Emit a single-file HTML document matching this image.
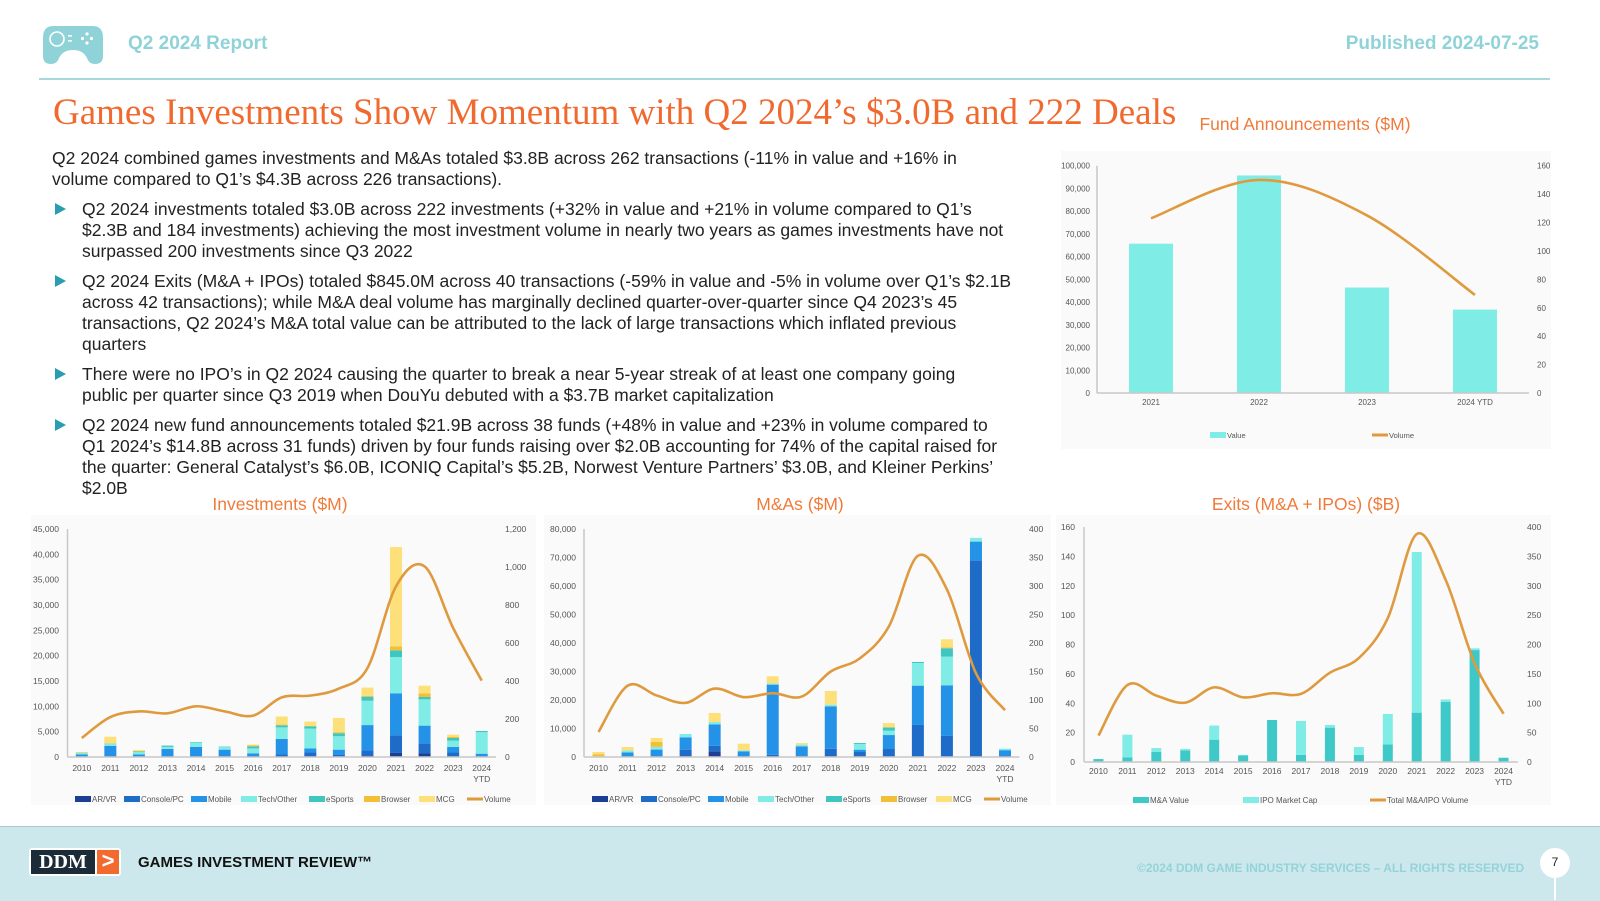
<!DOCTYPE html>
<html><head><meta charset="utf-8"><style>
body{margin:0;width:1600px;height:900px;position:relative;overflow:hidden;background:#fff;font-family:"Liberation Sans",sans-serif;}
.abs{position:absolute;}
#body-text{left:52px;top:148px;width:1060px;font-size:17.5px;line-height:21px;color:#222;}
#body-text p{margin:0 0 9px 0;}
.bul{position:relative;padding-left:30px;margin:0 0 9px 0;}
.bul::before{content:"";position:absolute;left:3px;top:4px;border-left:11px solid #2a9db0;border-top:6.5px solid transparent;border-bottom:6.5px solid transparent;}
.ctitle{position:absolute;color:#f07a3a;font-size:17.5px;transform:translateX(-50%);white-space:nowrap;z-index:2;}
#charts{z-index:1;}
</style></head><body>
<div class="abs" style="left:43px;top:26px;width:60px;height:38px;">
<svg width="60" height="38" viewBox="0 0 60 38"><path d="M10 0 H50 Q60 0 60 12 V30 Q60 38 52 38 Q46 38 44 32 Q40 24 30 24 Q20 24 16 32 Q14 38 8 38 Q0 38 0 30 V12 Q0 0 10 0Z" fill="#8fd3d8"/><circle cx="14" cy="13" r="7" fill="none" stroke="#fff" stroke-width="1.6"/><rect x="25" y="9" width="4" height="1.6" fill="#fff"/><rect x="25" y="14" width="4" height="1.6" fill="#fff"/><circle cx="44" cy="8" r="1.6" fill="#fff"/><circle cx="44" cy="17" r="1.6" fill="#fff"/><circle cx="39.5" cy="12.5" r="1.6" fill="#fff"/><circle cx="48.5" cy="12.5" r="1.6" fill="#fff"/></svg></div>
<div class="abs" style="left:128px;top:33px;font-size:19px;font-weight:bold;color:#8fd3d8;">Q2 2024 Report</div>
<div class="abs" style="right:61px;top:33px;font-size:19px;font-weight:bold;color:#8fd3d8;">Published 2024-07-25</div>
<div class="abs" style="left:39px;top:78px;width:1511px;height:2px;background:#a8d8dc;"></div>
<div class="abs" style="left:53px;top:91px;font-family:'Liberation Serif',serif;font-size:37px;color:#f06a30;white-space:nowrap;">Games Investments Show Momentum with Q2 2024’s $3.0B and 222 Deals</div>
<div class="ctitle" style="left:1305px;top:114px;">Fund Announcements ($M)</div>
<div class="abs" id="body-text">
<p>Q2 2024 combined games investments and M&amp;As totaled $3.8B across 262 transactions (-11% in value and +16% in<br>volume compared to Q1’s $4.3B across 226 transactions).</p>
<div class="bul">Q2 2024 investments totaled $3.0B across 222 investments (+32% in value and +21% in volume compared to Q1’s<br>$2.3B and 184 investments) achieving the most investment volume in nearly two years as games investments have not<br>surpassed 200 investments since Q3 2022</div>
<div class="bul">Q2 2024 Exits (M&amp;A + IPOs) totaled $845.0M across 40 transactions (-59% in value and -5% in volume over Q1’s $2.1B<br>across 42 transactions); while M&amp;A deal volume has marginally declined quarter-over-quarter since Q4 2023’s 45<br>transactions, Q2 2024’s M&amp;A total value can be attributed to the lack of large transactions which inflated previous<br>quarters</div>
<div class="bul">There were no IPO’s in Q2 2024 causing the quarter to break a near 5-year streak of at least one company going<br>public per quarter since Q3 2019 when DouYu debuted with a $3.7B market capitalization</div>
<div class="bul">Q2 2024 new fund announcements totaled $21.9B across 38 funds (+48% in value and +23% in volume compared to<br>Q1 2024’s $14.8B across 31 funds) driven by four funds raising over $2.0B accounting for 74% of the capital raised for<br>the quarter: General Catalyst’s $6.0B, ICONIQ Capital’s $5.2B, Norwest Venture Partners’ $3.0B, and Kleiner Perkins’<br>$2.0B</div>
</div>
<div class="ctitle" style="left:280px;top:494px;">Investments ($M)</div>
<div class="ctitle" style="left:800px;top:494px;">M&amp;As ($M)</div>
<div class="ctitle" style="left:1306px;top:494px;">Exits (M&amp;A + IPOs) ($B)</div>
<svg id="charts" class="abs" style="left:0;top:0" width="1600" height="900"></svg>
<div class="abs" style="left:0;top:826px;width:1600px;height:74px;background:#cce8ec;border-top:1.5px solid #a9c9cd;z-index:3;"></div>
<div class="abs" style="left:29px;top:848px;width:92px;height:28px;background:#fff;border-radius:3px;z-index:4;">
<div style="position:absolute;left:2px;top:2px;width:64px;height:24px;background:#1c2b38;color:#fff;font-family:'Liberation Serif',serif;font-weight:bold;font-size:20px;line-height:24px;text-align:center;">DDM</div>
<div style="position:absolute;left:68px;top:2px;width:22px;height:24px;background:#f26a2e;color:#fff;font-weight:bold;font-size:22px;line-height:22px;text-align:center;">&gt;</div></div>
<div class="abs" style="left:138px;top:854px;font-size:15px;font-weight:bold;color:#111;z-index:4;">GAMES INVESTMENT REVIEW™</div>
<div class="abs" style="left:1137px;top:861px;font-size:12px;font-weight:bold;color:#94d3d9;white-space:nowrap;z-index:4;">©2024 DDM GAME INDUSTRY SERVICES – ALL RIGHTS RESERVED</div>
<div class="abs" style="left:1554px;top:870px;width:2px;height:30px;background:#fff;z-index:4;"></div>
<div class="abs" style="left:1540px;top:848px;width:30px;height:30px;border-radius:50%;background:#fff;text-align:center;line-height:28px;font-size:12px;color:#222;z-index:4;">7</div>
<script>
const years=['2010','2011','2012','2013','2014','2015','2016','2017','2018','2019','2020','2021','2022','2023','2024'];
const invArVr=[0,0,0,0,0,0,100,200,100,100,200,800,700,100,0];
const invConsole=[50,100,100,100,100,100,100,300,800,300,1100,3500,2000,800,100];
const invMobile=[450,2100,400,1500,1900,1350,500,3050,800,1050,5000,8270,3490,1070,550];
const invTech=[300,400,500,400,850,500,1000,2300,3900,2650,4800,7170,5190,1250,4280];
const invEsports=[50,50,100,250,100,100,400,400,450,600,800,1320,460,530,200];
const invBrowser=[50,50,100,0,0,0,200,150,100,200,200,790,730,200,0];
const invMcg=[100,1300,200,0,0,0,150,1600,850,2800,1600,19600,1510,450,0];
const invVolume=[100,210,240,230,267,240,218,314,323,360,468,898,1003,679,402];
const maArVr=[0,0,0,0,2000,0,0,0,0,0,0,0,0,0,0];
const maConsole=[0,100,100,2570,1900,100,800,100,2900,1750,2800,11350,7490,68910,500];
const maMobile=[200,1500,2500,4330,7500,1900,24590,3640,14890,820,4900,13690,17670,6670,1900];
const maTech=[0,700,950,1170,900,350,470,600,580,2000,1520,7950,10060,1290,530];
const maEsports=[0,0,0,0,0,0,0,0,0,330,1170,360,2930,0,0];
const maBrowser=[800,0,1750,0,0,0,0,0,0,0,0,0,350,0,0];
const maMcg=[750,1200,1400,0,3150,2330,2450,560,4800,0,1500,0,2800,0,0];
const maVolume=[44,125,108,95,120,105,112,106,150,173,229,353,294,147,82];
const exitMa=[2.0,3.2,6.8,7.9,15.2,4.5,28.6,4.8,23.4,4.8,12.0,33.6,41.0,76.2,2.9];
const exitIpo=[0,15.4,2.7,1.0,9.6,0.3,0,23.1,1.8,5.4,20.7,109.4,1.6,1.2,0];
const exitVolume=[45,131,113,101,127,110,117,116,152,177,245,388,310,168,82];
const fundYears=['2021','2022','2023','2024 YTD'];
const fundValue=[65700,95700,46400,36700];
const fundVolume=[123,150,125,69];
const invTicksL=[0,5000,10000,15000,20000,25000,30000,35000,40000,45000];
const invTicksR=[0,200,400,600,800,1000,1200];
const maTicksL=[0,10000,20000,30000,40000,50000,60000,70000,80000];
const maTicksR=[0,50,100,150,200,250,300,350,400];
const exitTicksL=[0,20,40,60,80,100,120,140,160];
const exitTicksR=[0,50,100,150,200,250,300,350,400];
const fundTicksL=[0,10000,20000,30000,40000,50000,60000,70000,80000,90000,100000];
const fundTicksR=[0,20,40,60,80,100,120,140,160];
const catColors=['#1c3f94','#1f6cc8','#2492e6','#80ece6','#3fc6c0','#f2c037','#fde07a'];
const catNames=['AR/VR','Console/PC','Mobile','Tech/Other','eSports','Browser','MCG'];
const VOL='#df9a3e';
const NS='http://www.w3.org/2000/svg';
const svg=document.getElementById('charts');
function mk(tag,attrs,parent){const e=document.createElementNS(NS,tag);for(const k in attrs)e.setAttribute(k,attrs[k]);(parent||svg).appendChild(e);return e;}
function fmt(v){return v.toLocaleString('en-US');}
function smooth(pts){let d='M'+pts[0][0]+','+pts[0][1];for(let i=0;i<pts.length-1;i++){const p0=pts[i-1]||pts[i],p1=pts[i],p2=pts[i+1],p3=pts[i+2]||p2;const c1=[p1[0]+(p2[0]-p0[0])/6,p1[1]+(p2[1]-p0[1])/6],c2=[p2[0]-(p3[0]-p1[0])/6,p2[1]-(p3[1]-p1[1])/6];d+=' C'+c1+' '+c2+' '+p2;}return d;}
[[31,515,505,290],[544,515,507,290],[1056,515,495,290],[1061,151,490,298]].forEach(b=>{
  const bg=mk('rect',{x:b[0],y:b[1],width:b[2],height:b[3],fill:'#fafafa'});
  
  
});
function chart(c){
  const g=mk('g',{});
  
  
  const n=c.cats.length,band=(c.x1-c.x0)/n;
  const yL=v=>c.yBot-(v/c.lMax)*(c.yBot-c.yTop);
  const yR=v=>c.yBot-(v/c.rMax)*(c.yBot-c.yTop);
  const xC=i=>c.x0+band*(i+0.5);
  c.ticksL.forEach(t=>{const e=mk('text',{x:c.lx,y:yL(t)+3,'text-anchor':'end','font-size':c.fs,fill:'#555'},g);e.textContent=fmt(t);
    
    });
  c.ticksR.forEach(t=>{const e=mk('text',{x:c.rx,y:yR(t)+3,'font-size':c.fs,fill:'#555'},g);e.textContent=fmt(t);
    
    });
  const ya=mk('line',{x1:c.x0,x2:c.x0,y1:c.yTop,y2:c.yBot,stroke:'#c8c8c8','stroke-width':1.5},g);
  
  
  c.cats.forEach((cat,i)=>{
    let acc=0;
    c.series.forEach((s,k)=>{const v=s[i];if(v>0){const r=mk('rect',{x:xC(i)-c.barW/2,y:yL(acc+v),width:c.barW,height:yL(acc)-yL(acc+v),fill:c.colors[k]},g);
      
      }acc+=v;});
    const t=mk('text',{x:xC(i),y:c.yBot+c.ly,'text-anchor':'middle','font-size':c.fs,fill:'#555'},g);t.textContent=cat;
    
    
    if(c.ytd&&cat==='2024'){const t2=mk('text',{x:xC(i),y:c.yBot+c.ly+11,'text-anchor':'middle','font-size':c.fs,fill:'#555'},g);t2.textContent='YTD';
      
      }
  });
  const xa=mk('line',{x1:c.x0,x2:c.x1,y1:c.yBot,y2:c.yBot,stroke:'#c8c8c8','stroke-width':1.5},g);
  
  
  const pts=c.volume.map((v,i)=>[xC(i),yR(v)]);
  const p=mk('path',{d:smooth(pts),fill:'none',stroke:VOL,'stroke-width':2.6},g);
  
  
  c.legend.forEach(L=>{
    let sw;
    if(L.line){sw=mk('rect',{x:L.x,y:c.legY-1.5,width:16,height:3,fill:VOL},g);}
    else{sw=mk('rect',{x:L.x,y:c.legY-3,width:16,height:6,fill:L.color},g);}
    
    
    const t=mk('text',{x:L.x+17,y:c.legY+3,'font-size':c.fs-0.5,fill:'#555'},g);t.textContent=L.text;
    
    
  });
}
const invLegX=[75,124,191,241,309,364,419,467];
const catLegend=off=>catNames.map((nm,k)=>({x:invLegX[k]+off,text:nm,color:catColors[k]})).concat([{x:invLegX[7]+off,text:'Volume',line:true}]);
chart({name:'investments-chart',cats:years,x0:67.5,x1:496,yTop:529,yBot:757,lMax:45000,rMax:1200,ticksL:invTicksL,ticksR:invTicksR,lx:59,rx:505,fs:8.5,barW:12,ly:14,ytd:true,
  series:[invArVr,invConsole,invMobile,invTech,invEsports,invBrowser,invMcg],colors:catColors,snames:catNames,volume:invVolume,legY:799,legend:catLegend(0)});
chart({name:'ma-chart',cats:years,x0:584,x1:1019.5,yTop:529,yBot:757,lMax:80000,rMax:400,ticksL:maTicksL,ticksR:maTicksR,lx:576,rx:1029,fs:8.5,barW:12,ly:14,ytd:true,
  series:[maArVr,maConsole,maMobile,maTech,maEsports,maBrowser,maMcg],colors:catColors,snames:catNames,volume:maVolume,legY:799,legend:catLegend(517)});
chart({name:'exits-chart',cats:years,x0:1084,x1:1518,yTop:527,yBot:762,lMax:160,rMax:400,ticksL:exitTicksL,ticksR:exitTicksR,lx:1075,rx:1527,fs:8.5,barW:10,ly:12,ytd:true,
  series:[exitMa,exitIpo],colors:['#3ec8c8','#80ece6'],snames:['MA Value','IPO Market Cap'],volume:exitVolume,legY:800,
  legend:[{x:1133,text:'M&A Value',color:'#3ec8c8'},{x:1243,text:'IPO Market Cap',color:'#80ece6'},{x:1370,text:'Total M&A/IPO Volume',line:true}]});
chart({name:'fund-announcements-chart',cats:fundYears,x0:1097,x1:1529,yTop:165.7,yBot:393,lMax:100000,rMax:160,ticksL:fundTicksL,ticksR:fundTicksR,lx:1090,rx:1537,fs:8,barW:44,ly:12,ytd:false,
  series:[fundValue],colors:['#80ece6'],snames:['Value'],volume:fundVolume,legY:435,
  legend:[{x:1210,text:'Value',color:'#80ece6'},{x:1372,text:'Volume',line:true}]});
</script>
</body></html>
